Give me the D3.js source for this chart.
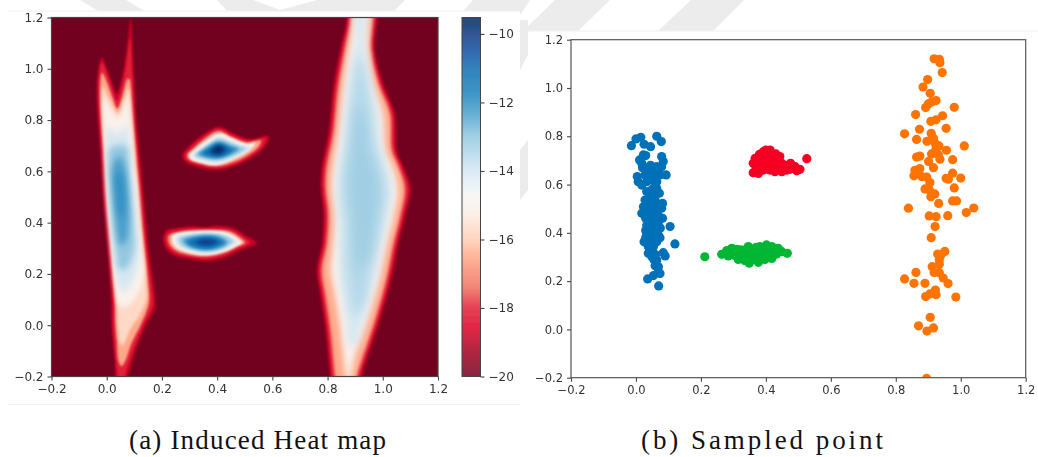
<!DOCTYPE html>
<html>
<head>
<meta charset="utf-8">
<script src="https://cdn.jsdelivr.net/npm/d3@7"></script>
<style>
  html, body { margin: 0; padding: 0; background: #fff; }
  svg { display: block; }
  .tick text { font-family: "DejaVu Sans", sans-serif; fill: #333; }
  .caption { font-family: "Liberation Serif", serif; fill: #111; }
</style>
</head>
<body>
<script>
const w = 1038;
const h = 457;

// ticks
const axisTicks = [-0.2, 0, 0.2, 0.4, 0.6, 0.8, 1.0, 1.2];
const colorTicks = [-10, -12, -14, -16, -18, -20];

// colorbar bottom to top
const colorStops = [-20, -19.2, -18.6, -18, -17.4, -16.5, -16, -15.2, -14.7, -14, -13, -12.3, -11.7, -11, -10.5, -10, -9.52];
const colorValues = ["#72001f", "#a80020", "#dc0028", "#e02038", "#f07060", "#ffa888", "#ffcdb5", "#fbeee6", "#f5f5f5", "#d5e7f1", "#93c8e0", "#4a9fca", "#1a82bb", "#0f6db0", "#104fa0", "#0a3a80", "#052860"];

// heat map iso lines, [x, y] in data units, one list per level
const tallBlobLevels = [-18.8, -18, -16.5, -15.7, -15, -14, -13, -12.3, -12];
const tallBlobBlur = [1, 1, 1.3, 1.8, 2, 3, 3, 3, 3];
const tallBlob = [
  [[-.018,1.045],[.000,1.00],[.020,.945],[.036,.904],[.052,.95],[.072,1.07],[.087,1.20],[.094,1.07],[.100,.95],[.108,.80],[.118,.683],[.135,.488],[.145,.371],[.151,.305],[.169,.162],[.175,.071],[.145,.006],[.109,-.085],[.079,-.189],[.07,-.21],[.036,-.21],[.030,-.137],[.018,.0],[.016,.097],[.006,.253],[-.002,.371],[-.012,.488],[-.024,.683],[-.036,.878],[-.034,.969]],
  [[-.017,1.025],[.005,.97],[.022,.915],[.036,.875],[.052,.92],[.072,1.02],[.085,1.12],[.09,1.02],[.095,.93],[.103,.79],[.112,.683],[.128,.488],[.138,.371],[.144,.305],[.160,.162],[.165,.075],[.135,.006],[.100,-.085],[.073,-.17],[.062,-.21],[.045,-.21],[.037,-.17],[.027,-.06],[.024,.0],[.023,.097],[.013,.253],[.005,.371],[-.005,.488],[-.017,.683],[-.029,.878],[-.028,.969]],
  [[-.017,.985],[.002,.945],[.022,.885],[.038,.845],[.055,.885],[.075,.96],[.082,.96],[.09,.87],[.098,.76],[.105,.683],[.120,.488],[.130,.371],[.136,.305],[.150,.162],[.152,.085],[.125,.006],[.09,-.07],[.067,-.14],[.054,-.16],[.043,-.14],[.037,-.06],[.032,.0],[.030,.097],[.02,.253],[.012,.371],[.002,.488],[-.010,.683],[-.022,.85],[-.024,.92]],
  [[-.014,.93],[.005,.89],[.024,.85],[.039,.825],[.056,.855],[.072,.915],[.08,.92],[.087,.84],[.094,.75],[.102,.62],[.115,.45],[.125,.34],[.131,.27],[.143,.16],[.143,.10],[.115,.03],[.088,-.01],[.068,-.06],[.056,-.08],[.045,-.06],[.04,.0],[.036,.09],[.025,.25],[.016,.37],[.006,.49],[-.006,.683],[-.016,.83]],
  [[-.010,.885],[.010,.85],[.025,.825],[.04,.805],[.055,.83],[.07,.875],[.078,.89],[.085,.82],[.09,.748],[.10,.62],[.109,.553],[.121,.371],[.128,.30],[.135,.22],[.125,.15],[.10,.10],[.075,.075],[.056,.071],[.04,.09],[.03,.15],[.02,.253],[.01,.36],[.0,.50],[-.006,.683],[-.012,.80]],
  [[.005,.775],[.04,.745],[.07,.78],[.08,.72],[.09,.60],[.10,.50],[.11,.37],[.115,.28],[.10,.19],[.06,.13],[.04,.16],[.03,.25],[.018,.37],[.008,.50],[.0,.68]],
  [[.012,.69],[.04,.70],[.07,.70],[.082,.58],[.09,.48],[.098,.37],[.10,.30],[.07,.22],[.045,.22],[.035,.28],[.025,.38],[.015,.50],[.008,.62]],
  [[.022,.62],[.045,.66],[.065,.62],[.075,.52],[.08,.42],[.07,.33],[.05,.31],[.038,.36],[.028,.46],[.022,.55]],
  [[.032,.58],[.05,.60],[.062,.55],[.065,.47],[.055,.42],[.042,.44],[.034,.52]],
];

const upperBlobLevels = [-18.8, -18, -16.5, -15, -14, -13, -12, -11, -10, -9.6];
const lowerBlobLevels = [-18.8, -18, -16.5, -15, -14, -13, -12, -11, -10.2];
const smallBlobBlur = [1, 1, 1, 1.2, 1.4, 1.6, 1.8, 1.8, 1.8, 1.8];
const upperBlob = [
  [[.274,.664],[.296,.696],[.338,.735],[.405,.774],[.459,.748],[.519,.725],[.586,.738],[.574,.696],[.531,.657],[.471,.625],[.398,.605],[.326,.618],[.284,.638]],
  [[.284,.664],[.304,.692],[.344,.729],[.405,.765],[.455,.742],[.519,.719],[.574,.730],[.565,.699],[.525,.662],[.469,.631],[.398,.613],[.329,.626],[.290,.642]],
  [[.292,.664],[.314,.687],[.350,.722],[.405,.756],[.453,.733],[.507,.712],[.558,.720],[.550,.696],[.517,.668],[.465,.638],[.398,.621],[.332,.634],[.299,.647]],
  [[.299,.664],[.320,.687],[.356,.716],[.405,.748],[.453,.729],[.507,.707],[.537,.712],[.525,.690],[.465,.651],[.398,.625],[.336,.635],[.305,.647]],
  [[.310,.664],[.332,.683],[.365,.708],[.405,.735],[.449,.720],[.501,.700],[.522,.700],[.513,.683],[.461,.654],[.398,.633],[.341,.643],[.316,.654]],
  [[.320,.664],[.344,.686],[.374,.709],[.405,.726],[.447,.712],[.489,.694],[.505,.691],[.459,.660],[.398,.642],[.348,.651],[.326,.657]],
  [[.333,.667],[.360,.691],[.405,.716],[.444,.702],[.477,.687],[.449,.667],[.398,.650],[.353,.657]],
  [[.350,.670],[.377,.694],[.407,.708],[.440,.694],[.455,.682],[.432,.665],[.398,.656],[.365,.663]],
  [[.374,.677],[.405,.702],[.431,.686],[.411,.666],[.386,.668]],
  [[.392,.685],[.407,.693],[.417,.683],[.401,.676]],
];

const lowerBlob = [
  [[.205,.344],[.211,.305],[.241,.273],[.290,.260],[.362,.250],[.435,.266],[.483,.292],[.543,.322],[.501,.351],[.459,.379],[.386,.387],[.362,.380],[.314,.386],[.254,.379],[.217,.370]],
  [[.214,.344],[.220,.309],[.246,.282],[.292,.269],[.362,.260],[.432,.275],[.478,.300],[.519,.322],[.493,.345],[.453,.371],[.386,.378],[.314,.377],[.254,.371],[.223,.362]],
  [[.223,.344],[.229,.314],[.254,.289],[.296,.276],[.362,.269],[.429,.284],[.473,.308],[.501,.322],[.483,.341],[.447,.364],[.386,.370],[.314,.369],[.260,.362],[.232,.354]],
  [[.235,.344],[.241,.316],[.263,.295],[.302,.282],[.362,.274],[.425,.287],[.469,.308],[.489,.322],[.469,.342],[.441,.360],[.386,.368],[.320,.366],[.260,.360],[.239,.352]],
  [[.248,.340],[.254,.316],[.275,.300],[.308,.287],[.362,.280],[.420,.292],[.459,.313],[.477,.323],[.453,.342],[.425,.354],[.386,.361],[.326,.360],[.275,.353],[.256,.351]],
  [[.262,.338],[.272,.312],[.312,.295],[.362,.287],[.414,.297],[.449,.318],[.459,.325],[.429,.348],[.386,.356],[.332,.355],[.284,.348]],
  [[.278,.331],[.296,.308],[.362,.293],[.408,.302],[.437,.322],[.411,.344],[.372,.351],[.326,.348],[.292,.340]],
  [[.296,.325],[.326,.305],[.368,.300],[.401,.310],[.420,.323],[.398,.339],[.368,.344],[.328,.340]],
  [[.326,.322],[.362,.312],[.392,.318],[.398,.326],[.374,.334],[.338,.332]],
];

const wideBlobLevels = [-18.8, -18, -16.5, -15, -14, -13.5, -13.2];
const wideBlobBlur = [1, 1, 1.5, 3, 4.5, 5.5, 5.5];
const wideBlob = [
  [[.868,1.25],[.870,1.197],[.845,1.073],[.821,.930],[.803,.748],[.779,.618],[.775,.540],[.785,.436],[.779,.318],[.761,.214],[.773,.123],[.791,-.007],[.809,-.2],[.815,-.25],[.918,-.25],[.924,-.2],[.942,-.137],[.990,.019],[1.033,.188],[1.057,.318],[1.081,.423],[1.101,.534],[1.075,.618],[1.051,.683],[1.044,.826],[1.002,.943],[.972,1.073],[.972,1.25]],
  [[.876,1.25],[.878,1.197],[.853,1.073],[.829,.930],[.811,.748],[.787,.618],[.783,.540],[.793,.436],[.787,.318],[.769,.214],[.781,.123],[.799,-.007],[.817,-.2],[.823,-.25],[.91,-.25],[.916,-.2],[.934,-.137],[.982,.019],[1.025,.188],[1.049,.318],[1.073,.423],[1.092,.534],[1.067,.618],[1.043,.683],[1.036,.826],[.994,.943],[.964,1.073],[.964,1.25]],
  [[.884,1.25],[.886,1.197],[.863,1.073],[.839,.930],[.821,.748],[.797,.618],[.793,.540],[.803,.436],[.797,.318],[.779,.214],[.791,.123],[.809,-.007],[.827,-.2],[.833,-.25],[.9,-.25],[.906,-.2],[.924,-.137],[.972,.019],[1.015,.188],[1.039,.318],[1.063,.423],[1.08,.534],[1.057,.618],[1.033,.683],[1.026,.826],[.984,.943],[.956,1.073],[.956,1.25]],
  [[.893,1.25],[.895,1.197],[.878,1.073],[.858,.930],[.84,.748],[.82,.618],[.815,.540],[.825,.436],[.82,.318],[.81,.214],[.825,.123],[.845,-.007],[.862,-.17],[.875,-.25],[.89,-.17],[.905,-.10],[.945,.019],[.99,.188],[1.015,.318],[1.04,.423],[1.055,.534],[1.035,.618],[1.01,.683],[1.0,.826],[.965,.943],[.945,1.073],[.94,1.25]],
  [[.902,1.25],[.902,1.12],[.885,1.0],[.868,.85],[.855,.72],[.838,.60],[.832,.50],[.842,.40],[.842,.30],[.842,.2],[.858,.10],[.87,.0],[.88,-.08],[.90,-.08],[.935,.05],[.972,.19],[.997,.32],[1.018,.43],[1.033,.53],[1.012,.62],[.99,.70],[.98,.83],[.95,.96],[.935,1.10],[.93,1.25]],
  [[.915,1.05],[.885,.85],[.875,.72],[.858,.60],[.858,.50],[.868,.40],[.868,.28],[.878,.15],[.90,.04],[.93,.08],[.952,.20],[.977,.32],[.997,.43],[1.008,.53],[.992,.62],[.966,.72],[.955,.84],[.935,.98]],
  [[.91,.85],[.89,.66],[.878,.55],[.888,.45],[.898,.35],[.908,.22],[.945,.26],[.966,.38],[.982,.50],[.972,.60],[.945,.68],[.935,.80]],
];

// sampled points
const bluePoints = [[-.014,.761],[.000,.789],[.015,.796],[.025,.767],[.045,.757],[.064,.800],[.078,.778],[.079,.716],[.084,.695],[.023,.723],[.011,.702],[.018,.688],[.079,.674],[.064,.674],[.033,.667],[.093,.640],[.004,.633],[.028,.640],[.059,.640],[.007,.612],[.018,.598],[.033,.612],[.064,.612],[.074,.640],[.064,.584],[.072,.564],[.033,.571],[.028,.536],[.043,.550],[.059,.536],[.082,.522],[.023,.508],[.054,.515],[.079,.502],[.038,.515],[.018,.481],[.033,.502],[.054,.495],[.082,.460],[.033,.430],[.054,.446],[.105,.426],[.043,.426],[.069,.432],[.066,.412],[.049,.405],[.033,.391],[.069,.391],[.074,.380],[.025,.363],[.049,.370],[.064,.363],[.120,.354],[.038,.343],[.054,.343],[.038,.315],[.049,.301],[.084,.318],[.090,.304],[.064,.288],[.059,.264],[.069,.260],[.074,.232],[.054,.223],[.036,.209],[.070,.180],[.069,.239],[.045,.62],[.05,.58],[.055,.56],[.04,.53],[.05,.53],[.065,.52],[.04,.49],[.06,.47],[.07,.47],[.045,.46],[.03,.46],[.065,.45],[.06,.42],[.04,.40],[.055,.39],[.03,.38],[.04,.365],[.06,.38],[.05,.33],[.045,.32],[.06,.31],[.055,.29],[.05,.66],[.045,.68],[.03,.66],[.07,.65],[.03,.72],[.02,.67],[.06,.60],[.05,.64],[.06,.49],[.04,.45],[.075,.42],[.03,.41]];
const orangePoints = [[.918,1.121],[.934,1.119],[.936,1.105],[.943,1.064],[.898,1.035],[.884,1.004],[.906,.978],[.924,.948],[.910,.942],[.900,.934],[.892,.919],[.980,.920],[.861,.890],[.944,.885],[.924,.868],[.908,.862],[.955,.833],[.873,.829],[.827,.810],[.909,.812],[.864,.787],[.916,.792],[.896,.779],[.921,.771],[.933,.760],[1.011,.760],[.956,.742],[.924,.750],[.910,.727],[.874,.718],[.864,.714],[.931,.723],[.936,.705],[.975,.703],[.901,.696],[.916,.670],[.874,.666],[.859,.659],[.864,.647],[.856,.636],[.880,.633],[.895,.631],[.975,.647],[.955,.626],[.962,.622],[1.000,.627],[.905,.608],[.980,.586],[.890,.582],[.903,.578],[.920,.561],[.908,.550],[.932,.522],[.975,.532],[.987,.532],[.839,.502],[1.040,.503],[1.017,.484],[.903,.470],[.924,.467],[.960,.471],[.921,.426],[.909,.380],[.951,.323],[.929,.312],[.939,.308],[.934,.288],[.934,.270],[.912,.260],[.862,.236],[.918,.236],[.934,.235],[.827,.209],[.946,.213],[.856,.191],[.890,.191],[.961,.190],[.922,.163],[.924,.144],[.905,.147],[.892,.136],[.985,.134],[.906,.050],[.870,.015],[.916,.006],[.896,-.007],[.895,-.203]];
const redPoints = [[.526,.707],[.400,.743],[.413,.743],[.392,.736],[.431,.727],[.443,.716],[.367,.709],[.387,.709],[.361,.688],[.382,.681],[.408,.702],[.428,.695],[.449,.688],[.361,.649],[.377,.646],[.392,.660],[.413,.660],[.428,.653],[.449,.653],[.459,.667],[.476,.688],[.474,.663],[.490,.674],[.505,.663],[.495,.657],[.402,.681],[.438,.671],[.372,.667],[.37,.69],[.375,.66],[.385,.695],[.395,.72],[.40,.70],[.41,.72],[.42,.71],[.415,.69],[.395,.67],[.405,.665],[.42,.67],[.435,.68],[.44,.70],[.445,.665],[.46,.68],[.465,.66],[.48,.67],[.38,.725],[.37,.67]];
const greenPoints = [[.212,.301],[.264,.311],[.279,.326],[.295,.336],[.310,.332],[.300,.308],[.315,.290],[.331,.294],[.349,.274],[.377,.278],[.346,.343],[.331,.329],[.361,.329],[.382,.343],[.402,.350],[.418,.343],[.438,.336],[.449,.322],[.466,.315],[.418,.294],[.397,.290],[.356,.294],[.341,.315],[.372,.312],[.392,.318],[.413,.315],[.433,.312],[.320,.312],[.284,.304],[.305,.32],[.32,.33],[.325,.30],[.335,.31],[.345,.325],[.35,.30],[.36,.31],[.365,.29],[.375,.325],[.38,.30],[.39,.335],[.39,.30],[.40,.325],[.405,.30],[.42,.325],[.43,.325],[.35,.335],[.335,.285],[.37,.34],[.41,.335],[.29,.32]];

// watermark behind the two pictures
const watermark = [
  [[80,0],[126,0],[146,12],[100,12]],
  [[217,0],[253,0],[280,10],[317,0],[350,0],[333,12],[228,12]],
  [[347,0],[405,0],[393,12],[333,12]],
  [[473,0],[530,0],[510,31],[445,31]],
  [[555,0],[610,0],[578,31],[523,31]],
  [[691,0],[744,0],[713,31],[658,31]],
  [[528,20],[528,55],[520,70],[520,20]],
  [[528,140],[528,190],[520,200],[520,150]],
];

const svg = d3.select("body").append("svg").attr("width", w).attr("height", h);
const defs = svg.append("defs");

const blur = (dev) => {
  const id = "blur" + String(dev).replace(".", "_");
  if (defs.select("#" + id).empty()) {
    defs.append("filter").attr("id", id)
      .attr("filterUnits", "userSpaceOnUse")
      .attr("x", 0).attr("y", 0).attr("width", w).attr("height", h)
      .append("feGaussianBlur").attr("stdDeviation", dev);
  }
  return `url(#${id})`;
};

// page background
svg.append("g").selectAll("polygon").data(watermark).enter().append("polygon")
  .attr("points", (d) => d.join(" "))
  .attr("fill", "#ececec");
svg.append("rect").attr("x", 8).attr("y", 11).attr("width", 512).attr("height", 394)
  .attr("fill", "#fff");
svg.append("rect").attr("x", 528).attr("y", 31).attr("width", 510).attr("height", 426)
  .attr("fill", "#fff");
[[8, 520, 11], [8, 520, 404.5], [528, 1038, 31]].forEach(([x1, x2, y]) => {
  svg.append("line").attr("x1", x1).attr("x2", x2).attr("y1", y).attr("y2", y)
    .attr("stroke", "#f0f0f0");
});

const color = d3.scaleLinear().domain(colorStops).range(colorValues);

const styleAxis = (g, size) => {
  g.selectAll(".tick text").attr("font-size", size);
  g.selectAll(".tick line").attr("stroke", "#444").attr("stroke-width", 1.1);
  g.select(".domain").remove();
};
const tickFmt = d3.format(".1f");

// (a) heat map
const heatX = d3.scaleLinear().domain([-0.2, 1.2]).range([51.5, 438]);
const heatY = d3.scaleLinear().domain([-0.2, 1.2]).range([376.5, 17.5]);

defs.append("clipPath").attr("id", "heatClip").append("rect")
  .attr("x", heatX(-0.2)).attr("y", heatY(1.2))
  .attr("width", heatX(1.2) - heatX(-0.2)).attr("height", heatY(-0.2) - heatY(1.2));

const heat = svg.append("g").attr("clip-path", "url(#heatClip)");
heat.append("rect").attr("x", 0).attr("y", 0).attr("width", w).attr("height", h)
  .attr("fill", color(-20));

const isoLine = d3.line()
  .x((d) => heatX(d[0]))
  .y((d) => heatY(d[1]))
  .curve(d3.curveCatmullRomClosed.alpha(0.5));

[
  [tallBlob, tallBlobLevels, tallBlobBlur],
  [upperBlob, upperBlobLevels, smallBlobBlur],
  [lowerBlob, lowerBlobLevels, smallBlobBlur],
  [wideBlob, wideBlobLevels, wideBlobBlur],
].forEach(([blob, levels, blurs]) => {
  heat.append("g").selectAll("path").data(blob).enter().append("path")
    .attr("d", isoLine)
    .attr("fill", (d, i) => color(levels[i]))
    .attr("filter", (d, i) => blur(blurs[i]));
});

const frame = (x, y, col) => svg.append("rect")
  .attr("x", x.range()[0]).attr("y", y.range()[1])
  .attr("width", x.range()[1] - x.range()[0]).attr("height", y.range()[0] - y.range()[1])
  .attr("fill", "none").attr("stroke", col).attr("stroke-width", 1.2);

const front = svg.append("g").attr("filter", blur(0.45));

front.append("g").attr("transform", `translate(0,${heatY(-0.2)})`)
  .call(d3.axisBottom(heatX).tickValues(axisTicks).tickFormat(tickFmt).tickSize(4).tickPadding(4))
  .call(styleAxis, 12);
front.append("g").attr("transform", `translate(${heatX(-0.2)},0)`)
  .call(d3.axisLeft(heatY).tickValues(axisTicks).tickFormat(tickFmt).tickSize(4).tickPadding(4))
  .call(styleAxis, 12);

// colorbar
const barY = d3.scaleLinear().domain([-20, -9.52]).range([376.5, 17.5]);
const barSteps = d3.range(17.5, 376.5, 1);
front.append("g").selectAll("rect").data(barSteps).enter().append("rect")
  .attr("x", 462).attr("width", 18.5)
  .attr("y", (d) => d).attr("height", 1.2)
  .attr("fill", (d) => color(barY.invert(d + 0.5)));
front.append("rect").attr("x", 462).attr("y", 17.5).attr("width", 18.5).attr("height", 359)
  .attr("fill", "none").attr("stroke", "#444").attr("stroke-width", 1);
front.append("g").attr("transform", "translate(480.5,0)")
  .call(d3.axisRight(barY).tickValues(colorTicks).tickFormat(d3.format("d")).tickSize(4).tickPadding(4))
  .call(styleAxis, 12);

// (b) sampled points
const ptX = d3.scaleLinear().domain([-0.2, 1.2]).range([571, 1025.7]);
const ptY = d3.scaleLinear().domain([-0.2, 1.2]).range([377.7, 39.7]);

defs.append("clipPath").attr("id", "ptClip").append("rect")
  .attr("x", ptX(-0.2)).attr("y", ptY(1.2))
  .attr("width", ptX(1.2) - ptX(-0.2)).attr("height", ptY(-0.2) - ptY(1.2));

const pts = front.append("g").attr("clip-path", "url(#ptClip)");
[[bluePoints, "#0071b9"], [orangePoints, "#ff7300"], [greenPoints, "#00b633"], [redPoints, "#f50022"]].forEach(([list, col]) => {
  pts.append("g").selectAll("circle").data(list).enter().append("circle")
    .attr("cx", (d) => ptX(d[0]))
    .attr("cy", (d) => ptY(d[1]))
    .attr("r", 4.6)
    .attr("fill", col);
});

front.append("g").attr("transform", `translate(0,${ptY(-0.2)})`)
  .call(d3.axisBottom(ptX).tickValues(axisTicks).tickFormat(tickFmt).tickSize(4).tickPadding(4))
  .call(styleAxis, 11.5);
front.append("g").attr("transform", `translate(${ptX(-0.2)},0)`)
  .call(d3.axisLeft(ptY).tickValues(axisTicks).tickFormat(tickFmt).tickSize(4).tickPadding(4))
  .call(styleAxis, 11.5);

frame(heatX, heatY, "#444").attr("filter", blur(0.45));
frame(ptX, ptY, "#555").attr("filter", blur(0.45));

// captions
svg.append("text").attr("class", "caption")
  .attr("x", 257.5).attr("y", 448.5).attr("text-anchor", "middle")
  .attr("font-size", 27).attr("textLength", 257).attr("lengthAdjust", "spacing")
  .text("(a) Induced Heat map");
svg.append("text").attr("class", "caption")
  .attr("x", 762).attr("y", 448.5).attr("text-anchor", "middle")
  .attr("font-size", 27).attr("textLength", 242).attr("lengthAdjust", "spacing")
  .text("(b) Sampled point");
</script>
</body>
</html>
